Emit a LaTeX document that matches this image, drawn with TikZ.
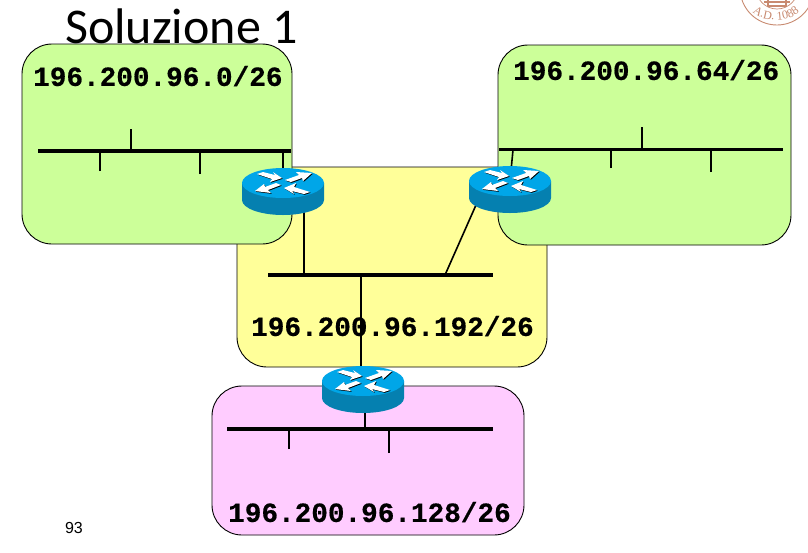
\documentclass[tikz,border=0pt]{standalone}
\usepackage{fontspec}
\setmainfont{Liberation Sans}
\newfontfamily\titlefont{Carlito}
\newfontfamily\netfont[BoldFont={Liberation Mono Bold},BoldFeatures={FakeBold=0.5}]{Liberation Mono}
\newfontfamily\logofont{Liberation Serif}
\usetikzlibrary{arrows.meta,decorations.text}
\definecolor{lan}{HTML}{CCFF99}
\definecolor{mid}{HTML}{FFFF99}
\definecolor{pinklan}{HTML}{FFCCFF}
\definecolor{rtop}{HTML}{00A6E8}
\definecolor{rside}{HTML}{0580B0}
\definecolor{logoc}{HTML}{C88A70}
\newcommand{\arrowset}{%
  (-26,-9) -- (-20,-11) -- (-8,-8) -- (-10,-11) -- (-1,-5) -- (-13,-1) -- (-11,-4) -- cycle
  (2,-3) -- (16,-8) -- (13,-11) -- (29,-10) -- (20,-2) -- (19,-5) -- (8,-1) -- cycle
  (-2,2) -- (-15,7) -- (-12,10) -- (-28,8) -- (-19,1) -- (-18,4) -- (-7,0) -- cycle
  (27,9) -- (21,11) -- (9,8) -- (11,11) -- (1,5) -- (13,0) -- (11,4) -- cycle
}
\tikzset{
  area/.style={draw=black,line width=0.9pt,rounded corners=30pt},
  bus/.style={draw=black,line width=3.4pt},
  link/.style={draw=black,line width=1.6pt},
  netlabel/.style={font=\netfont\bfseries\fontsize{27.7}{30}\selectfont,inner sep=0pt,anchor=west},
  router/.pic={
    \fill[rside] (-41,0) -- (-41,17) arc[start angle=180,end angle=0,x radius=41,y radius=15] -- (41,0) -- cycle;
    \fill[rtop] (0,0) ellipse[x radius=41,y radius=15];
    \fill[black,shift={(0.8,0.8)}] \arrowset;
    \fill[white] \arrowset;
  }
}
\begin{document}
\begin{tikzpicture}[x=1pt,y=-1pt]
\useasboundingbox (0,0) rectangle (808,552);
\clip (0,0) rectangle (808,552);
\fill[white] (0,0) rectangle (808,552);
% logo
\draw[logoc,line width=0.9pt] (777,-12) circle[radius=37];
\draw[logoc,line width=0.7pt] (777,-12) circle[radius=21];
\draw[logoc,line width=1.2pt] (764,2) -- (790,2) (768,-4) rectangle (786,6);
\path[postaction={decorate,decoration={text along path,text align=center,
  text={|\logofont\fontsize{12}{12}\selectfont\color{logoc}|A.D. 1088}}}]
  (749,8) .. controls (760,24) and (792,24) .. (803,8);
% title
\node[inner sep=0pt,anchor=base west,font=\titlefont\fontsize{50}{52}\selectfont] (title) at (65,43) {Soluzione 1};
% areas
\draw[area,fill=mid] (237,167) rectangle (547,367);
\draw[area,fill=lan] (22,44) rectangle (292,244);
\draw[area,fill=lan] (498,45) rectangle (791,245);
\draw[area,fill=pinklan] (212,386) rectangle (524,535);
% bus end points and stations
\coordinate (b1l) at (38,151); \coordinate (b1r) at (291,151);
\coordinate (b2l) at (499,149.5); \coordinate (b2r) at (783,149.5);
\coordinate (b3l) at (268,275); \coordinate (b3r) at (493,275);
\coordinate (b4l) at (227,429); \coordinate (b4r) at (493,429);
\coordinate (s1a) at (131,129); \coordinate (s1ab) at (131,151);
\coordinate (s1b) at (100,171); \coordinate (s1bb) at (100,151);
\coordinate (s1c) at (200,174); \coordinate (s1cb) at (200,151);
\coordinate (s2a) at (642,127); \coordinate (s2ab) at (642,150);
\coordinate (s2b) at (611,168); \coordinate (s2bb) at (611,150);
\coordinate (s2c) at (711,172); \coordinate (s2cb) at (711,150);
\coordinate (s4a) at (289,449); \coordinate (s4ab) at (289,429);
\coordinate (s4b) at (389,453); \coordinate (s4bb) at (389,429);
% routers' anchor points
\coordinate (r1c) at (283,183); \coordinate (r2c) at (510,181); \coordinate (r3c) at (363,381);
\coordinate (r1up) at (283,151); \coordinate (r1dn) at (304,205);
\coordinate (r1bus) at (304,275);
\coordinate (r2up) at (513,150); \coordinate (r2dn) at (476,205);
\coordinate (r2bus) at (445,275);
\coordinate (r3up) at (361,275); \coordinate (r3dn) at (361,385);
\coordinate (r3bus) at (365,429); \coordinate (r3low) at (365,405);
% connectors
\draw[bus] (b1l) -- (b1r);
\draw[bus] (b2l) -- (b2r);
\draw[bus] (b3l) -- (b3r);
\draw[bus] (b4l) -- (b4r);
\draw[link] (s1a) -- (s1ab);
\draw[link] (s1b) -- (s1bb);
\draw[link] (s1c) -- (s1cb);
\draw[link] (s2a) -- (s2ab);
\draw[link] (s2b) -- (s2bb);
\draw[link] (s2c) -- (s2cb);
\draw[link] (s4a) -- (s4ab);
\draw[link] (s4b) -- (s4bb);
\draw[link] (r1up) -- (r1c);
\draw[link] (r2up) -- (r2c);
\draw[link] (r1dn) -- (r1bus);
\draw[link] (r2dn) -- (r2bus);
\draw[link] (r3up) -- (r3dn);
\draw[link] (r3low) -- (r3bus);
% labels
\node[netlabel] (n1) at (33,76) {196.200.96.0/26};
\node[netlabel] (n2) at (513,70) {196.200.96.64/26};
\node[netlabel] (n3) at (251,326) {196.200.96.192/26};
\node[netlabel] (n4) at (228,512) {196.200.96.128/26};
% routers
\pic at (r1c) {router};
\pic at (r2c) {router};
\pic at (r3c) {router};
\node[inner sep=0pt,font=\fontsize{16}{17}\selectfont] (page) at (74,528) {93};
\end{tikzpicture}
\end{document}
